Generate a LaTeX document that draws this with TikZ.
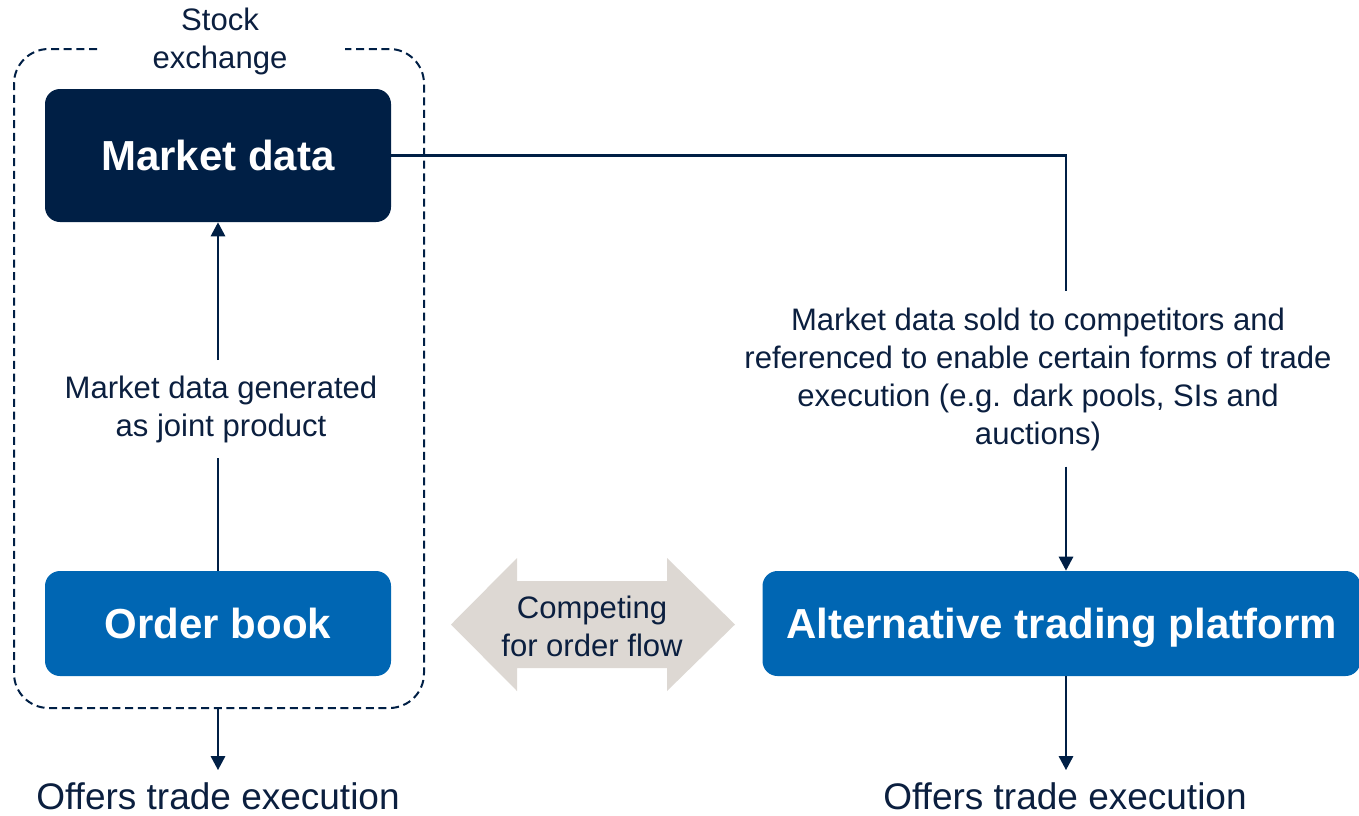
\documentclass[tikz,border=0pt]{standalone}
\usepackage{fontspec}
\setmainfont{Liberation Sans}
\usetikzlibrary{arrows.meta,calc}
\definecolor{navy}{HTML}{001F45}
\definecolor{txtnavy}{HTML}{0B1F3F}
\definecolor{midblue}{HTML}{0066B3}
\definecolor{greyarrow}{HTML}{DDD8D3}
\begin{document}
\begin{tikzpicture}[x=0.75pt,y=-0.75pt,
  bigbox/.style={rectangle, rounded corners=11.25pt, text=white, font=\fontsize{31.5}{36}\selectfont\bfseries, inner sep=0pt, text height=22.6pt, text depth=0pt},
  smalltext/.style={text=txtnavy, font=\fontsize{23.3}{28.5}\selectfont, align=center},
  bigtext/.style={text=txtnavy, font=\fontsize{27.75}{32}\selectfont, inner sep=0pt},
  conn/.style={draw=navy, line width=2.1pt},
  arr/.style={conn, -{Triangle[width=10.5pt,length=10.5pt]}},
  dashbox/.style={draw=navy, line width=1.5pt, dash pattern=on 6pt off 3.5pt, rounded corners=26pt}
]
\useasboundingbox (0,0) rectangle (1359,815);

% stock exchange dashed frame with gap for the title
\draw[dashbox] (97,49) -- (14,49) -- (14,708) -- (424,708) -- (424,49) -- (345,49);
\node[smalltext] (sx) at (220,41) {Stock\\exchange};
\coordinate (sxb) at (218,708);

% boxes
\node[bigbox, fill=navy, minimum width=259.5pt, minimum height=99.75pt] (md) at (218,155.5) {Market data};
\node[bigbox, fill=midblue, minimum width=259.5pt, minimum height=78.75pt] (ob) at (218,623.5) {Order book};
\node[bigbox, fill=midblue, minimum width=448.5pt, minimum height=78.75pt] (atp) at (1061.5,623.5) {Alternative trading platform};

% joint product arrow
\node[smalltext, inner sep=0pt, minimum height=73pt] (jp) at (221,409) {Market data generated\\as joint product};
\draw[conn] (ob.north) -- (ob.north |- jp.south);
\draw[arr] (md.south |- jp.north) -- (md.south);

% market data sold connector
\coordinate (c1) at (1066,155.5);
\node[smalltext, inner sep=0pt, minimum height=131pt] (sold) at (1038,379)
  {Market data sold to competitors and\\referenced to enable certain forms of trade\\execution (e.g. dark pools, SIs and\\auctions)};
\draw[conn] (md.east) -- (c1) -- (c1 |- sold.north);
\draw[arr] (c1 |- sold.south) -- (c1 |- atp.north);

% double arrow
\fill[greyarrow] (451,624.5) -- (517,558) -- (517,581) -- (667,581) -- (667,558) -- (735,624.5)
  -- (667,691) -- (667,668) -- (517,668) -- (517,691) -- cycle;
\node[smalltext] (comp) at (592,626) {Competing\\for order flow};

% offers trade execution
\node[bigtext] (off1) at (218,796) {Offers trade execution};
\node[bigtext] (off2) at (1065,796) {Offers trade execution};
\draw[arr, shorten >=9pt] (sxb) -- (off1.north);
\draw[arr, shorten >=9pt] (c1 |- atp.south) -- (c1 |- off2.north);
\end{tikzpicture}
\end{document}
